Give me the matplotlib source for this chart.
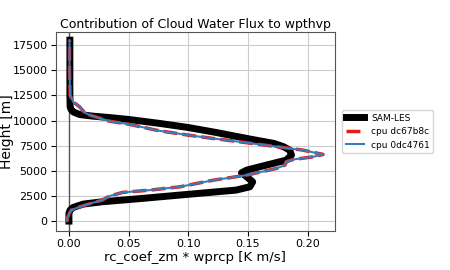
import matplotlib
matplotlib.use('Agg')
import matplotlib.pyplot as plt

# SAM-LES profile
sam_height = [0, 770, 1100, 1360, 1690, 1920, 2260, 2590, 3080, 3410, 3900, 4400, 4800,
              5070, 5570, 6060, 6560, 7060, 7390, 7720, 8200, 8800, 9310, 9700, 10110,
              10300, 10440, 10600, 10860, 11100, 11360, 12500, 15000, 18000]
sam_val = [0.0, 0.0, 0.001, 0.0036, 0.012, 0.028, 0.062, 0.093, 0.140, 0.1516, 0.154,
           0.149, 0.1446, 0.149, 0.1655, 0.182, 0.1865, 0.185, 0.180, 0.172, 0.150, 0.124,
           0.100, 0.077, 0.050, 0.034, 0.020, 0.009, 0.0036, 0.0018, 0.001, 0.0008,
           0.0008, 0.0008]

# model profiles
cpu_height = [0, 400, 800, 1090, 1420, 1750, 2090, 2490, 2850, 3080, 3410, 4070, 4570,
              5240, 5570, 5900, 6130, 6390, 6630, 7060, 7390, 7780, 8220, 8550, 9000,
              9640, 9940, 10540, 10800, 11360, 11860, 12500, 15000, 18000]
dc67b8c_val = [-0.0015, -0.001, 0.0005, 0.002, 0.009, 0.018, 0.028, 0.034, 0.045, 0.068,
               0.093, 0.121, 0.149, 0.174, 0.181, 0.182, 0.188, 0.2046, 0.213, 0.196,
               0.175, 0.150, 0.121, 0.100, 0.075, 0.050, 0.034, 0.0176, 0.013, 0.009,
               0.0036, 0.001, 0.0005, 0.0005]
d0dc4761_val = [-0.0015, -0.001, 0.0005, 0.002, 0.009, 0.018, 0.028, 0.034, 0.045, 0.068,
                0.093, 0.121, 0.149, 0.174, 0.181, 0.182, 0.188, 0.2046, 0.213, 0.196,
                0.175, 0.150, 0.121, 0.100, 0.075, 0.050, 0.034, 0.0176, 0.013, 0.009,
                0.0036, 0.001, 0.0005, 0.0005]

fig = plt.figure(figsize=(4.5, 2.7), dpi=100)
ax = fig.add_axes([0.124, 0.144, 0.62, 0.737])

ax.axvline(0, color='#555555', lw=1, zorder=1)
ax.plot(sam_val, sam_height, color='black', lw=5, label='SAM-LES', zorder=2)
ax.plot(dc67b8c_val, cpu_height, color='#e41a1c', lw=2.5, ls=(0, (4, 1.5)),
        label='cpu dc67b8c', zorder=3)
ax.plot(d0dc4761_val, cpu_height, color='#377eb8', lw=1.5, label='cpu 0dc4761', zorder=4)

ax.set_xlim(-0.011, 0.2228)
ax.set_ylim(-1000, 18800)
ax.set_xticks([0.0, 0.05, 0.10, 0.15, 0.20])
ax.set_yticks([0, 2500, 5000, 7500, 10000, 12500, 15000, 17500])
ax.tick_params(labelsize=8, pad=2.5)
ax.grid(color='#cccccc', lw=0.8)
ax.set_axisbelow(True)
for s in ax.spines.values():
    s.set_color('#555555')

ax.set_title('Contribution of Cloud Water Flux to wpthvp', fontsize=9, pad=3)
ax.set_xlabel('rc_coef_zm * wprcp [K m/s]', fontsize=9.5, labelpad=1)
ax.set_ylabel('Height [m]', fontsize=10)
ax.yaxis.set_label_coords(-0.15, 0.5)
ax.legend(loc='center left', bbox_to_anchor=(1.01, 0.5), fontsize=6.5)

fig.savefig('out.png', dpi=100)
